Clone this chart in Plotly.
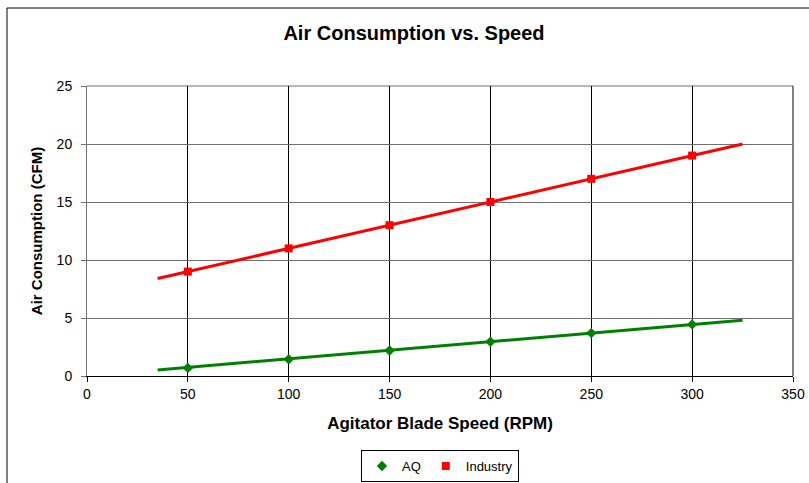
import plotly.graph_objects as go

speed = [50, 100, 150, 200, 250, 300]
aq = [0.7, 1.45, 2.2, 2.95, 3.7, 4.45]
industry = [9, 11, 13, 15, 17, 19]

trend_x = [35, 325]
aq_trend = [0.52, 4.8]
industry_trend = [8.4, 20.0]

x_ticks = [0, 50, 100, 150, 200, 250, 300, 350]
y_ticks = [0, 5, 10, 15, 20, 25]

GREEN = "#008000"
RED = "#ff0000"

fig = go.Figure()
fig.add_trace(go.Scatter(x=trend_x, y=aq_trend, mode="lines",
                         line=dict(color=GREEN, width=3), showlegend=False, hoverinfo="skip"))
fig.add_trace(go.Scatter(x=trend_x, y=industry_trend, mode="lines",
                         line=dict(color=RED, width=3), showlegend=False, hoverinfo="skip"))
fig.add_trace(go.Scatter(x=speed, y=aq, mode="markers", name="AQ",
                         marker=dict(symbol="diamond", color=GREEN, size=8)))
fig.add_trace(go.Scatter(x=speed, y=industry, mode="markers", name="Industry",
                         marker=dict(symbol="square", color=RED, size=8)))

L, R, T, B = 87, 793, 86, 376
W, H = 809, 483
pw, ph = R - L, B - T

def px_x(p):
    return (p - L) / pw

def px_y(p):
    return (B - p) / ph

# outer chart frame
fig.add_shape(type="rect", xref="paper", yref="paper",
              x0=px_x(7), x1=px_x(815), y0=px_y(495), y1=px_y(8),
              line=dict(color="#000000", width=1), fillcolor="rgba(0,0,0,0)", layer="below")
# top and right edges of the plot area
fig.add_shape(type="line", xref="paper", yref="paper", x0=0, x1=1, y0=1, y1=1,
              line=dict(color="#707070", width=1), layer="below")
fig.add_shape(type="line", xref="paper", yref="paper", x0=1, x1=1, y0=0, y1=1,
              line=dict(color="#000000", width=1), layer="below")

font_family = "Liberation Sans, Arial, sans-serif"

fig.update_layout(
    width=W, height=H,
    margin=dict(l=L, r=W - R, t=T, b=H - B, autoexpand=False),
    paper_bgcolor="white", plot_bgcolor="white",
    font=dict(family=font_family, size=13, color="#000000"),
    title=dict(text="<b>Air Consumption vs. Speed</b>", x=414 / W, xanchor="center",
               y=1 - 33 / H, yanchor="middle", yref="container",
               font=dict(size=20, family=font_family)),
    xaxis=dict(range=[0, 350], tickvals=x_ticks, ticktext=[str(v) for v in x_ticks],
               showgrid=True, gridcolor="#000000", gridwidth=1,
               showline=True, linecolor="#000000", linewidth=1,
               ticks="outside", ticklen=5, tickcolor="#000000",
               tickfont=dict(size=14), zeroline=False, automargin=False,
               title=dict(text="<b>Agitator Blade Speed (RPM)</b>", font=dict(size=17), standoff=16)),
    yaxis=dict(range=[0, 25], tickvals=y_ticks, ticktext=[str(v) for v in y_ticks],
               showgrid=True, gridcolor="#707070", gridwidth=1,
               showline=True, linecolor="#707070", linewidth=1,
               ticks="outside", ticklen=5, tickcolor="#707070",
               tickfont=dict(size=14), zeroline=False, automargin=False,
               ticklabelstandoff=6,
               title=dict(text="<b>Air Consumption (CFM)</b>", font=dict(size=15), standoff=10)),
    legend=dict(orientation="h", x=px_x(440), xanchor="center", y=px_y(466), yanchor="middle",
                bordercolor="#000000", borderwidth=1, bgcolor="white",
                font=dict(size=13), itemwidth=30, tracegroupgap=0),
    showlegend=True,
)

fig.write_html("out.html", config={"displayModeBar": False},
               post_script="document.body.style.margin='0px';")
